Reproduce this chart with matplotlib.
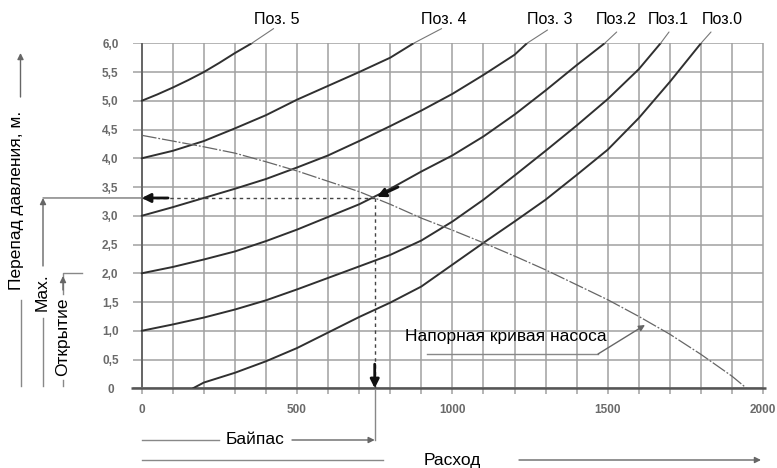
import numpy as np
import matplotlib
matplotlib.use("Agg")
import matplotlib.pyplot as plt
import matplotlib.transforms as mtransforms

plt.rcParams['font.family'] = ['Liberation Sans', 'DejaVu Sans']

# --- donnees ---
q_ticks = [0, 500, 1000, 1500, 2000]
q_grid = list(range(0, 2001, 100))
h_grid = [0, 0.5, 1.0, 1.5, 2.0, 2.5, 3.0, 3.5, 4.0, 4.5, 5.0, 5.5, 6.0]
h_labels = ['0', '0,5', '1,0', '1,5', '2,0', '2,5', '3,0', '3,5', '4,0', '4,5', '5,0', '5,5', '6,0']

# courbes des positions de la vanne (debit, perte de charge)
q_pos5 = [0, 50, 100, 150, 200, 250, 300, 354]
h_pos5 = [5.0, 5.11, 5.23, 5.36, 5.5, 5.66, 5.83, 6.0]
q_pos4 = [0, 100, 200, 300, 400, 500, 600, 700, 800, 875]
h_pos4 = [4.0, 4.13, 4.3, 4.52, 4.75, 5.02, 5.26, 5.5, 5.75, 6.0]
q_pos3 = [0, 100, 200, 300, 400, 500, 600, 700, 800, 900, 1000, 1100, 1200, 1240]
h_pos3 = [3.0, 3.15, 3.31, 3.47, 3.64, 3.84, 4.05, 4.3, 4.56, 4.83, 5.12, 5.45, 5.8, 6.0]
q_pos2 = [0, 100, 200, 300, 400, 500, 600, 700, 800, 900, 1000, 1100, 1200, 1300, 1400, 1490]
h_pos2 = [2.0, 2.11, 2.24, 2.38, 2.56, 2.76, 2.98, 3.2, 3.47, 3.77, 4.05, 4.38, 4.76, 5.18, 5.62, 6.0]
q_pos1 = [0, 100, 200, 300, 400, 500, 600, 700, 800, 900, 1000, 1100, 1200, 1300, 1400, 1500, 1600, 1670]
h_pos1 = [1.0, 1.11, 1.23, 1.37, 1.53, 1.72, 1.92, 2.12, 2.32, 2.57, 2.9, 3.28, 3.7, 4.13, 4.57, 5.03, 5.55, 6.0]
q_pos0 = [165, 200, 300, 400, 500, 600, 700, 800, 900, 1000, 1100, 1200, 1300, 1400, 1500, 1600, 1700, 1800]
h_pos0 = [0.0, 0.1, 0.27, 0.47, 0.7, 0.97, 1.24, 1.49, 1.77, 2.15, 2.53, 2.9, 3.28, 3.71, 4.15, 4.7, 5.33, 6.0]

pos_names = ['Поз.0', 'Поз.1', 'Поз.2', 'Поз. 3', 'Поз. 4', 'Поз. 5']
pos_q = [q_pos0, q_pos1, q_pos2, q_pos3, q_pos4, q_pos5]
pos_h = [h_pos0, h_pos1, h_pos2, h_pos3, h_pos4, h_pos5]

# courbe de la pompe
q_pump = [0, 100, 200, 300, 400, 500, 600, 700, 750, 800, 900, 1000, 1100, 1200, 1300, 1400, 1500, 1600, 1700, 1800, 1900, 1947]
h_pump = [4.4, 4.3, 4.2, 4.09, 3.94, 3.78, 3.6, 3.42, 3.31, 3.2, 2.96, 2.75, 2.53, 2.3, 2.06, 1.8, 1.54, 1.25, 0.94, 0.59, 0.21, 0.0]

# point de fonctionnement
q_work = 750
h_work = 3.31

W, H = 777, 468
fig = plt.figure(figsize=(W / 100, H / 100), dpi=100)
ax = fig.add_axes([127.7 / W, (H - 388.3) / H, (766.2 - 127.7) / W, 345.0 / H])
ax.set_xlim(-45, 2010)
ax.set_ylim(0, 6)
for s in ax.spines.values():
    s.set_visible(False)

# pixels comptes depuis le coin haut gauche
tl = mtransforms.Affine2D().scale(1 / W, -1 / H).translate(0, 1) + fig.transFigure
px_y = mtransforms.blended_transform_factory(tl, ax.transData)
q_px = mtransforms.blended_transform_factory(ax.transData, tl)

gridc = '#a0a0a0'
ax.hlines(h_grid, -28, 2000, color=gridc, lw=1.1, zorder=1)
ax.vlines(q_grid, -0.1, 6, color=gridc, lw=1.1, zorder=1, clip_on=False)
ax.hlines(0, -35, 2010, color='#555555', lw=1.8, zorder=2, clip_on=False)
ax.vlines(0, 0, 6, color='#666666', lw=1.4, zorder=2)

ax.set_xticks(q_ticks)
ax.set_xticklabels([str(v) for v in q_ticks])
ax.set_yticks(h_grid)
ax.set_yticklabels(h_labels)
ax.tick_params(axis='x', length=0, pad=11.5, labelsize=8.5, labelcolor='#6a6a6a')
ax.tick_params(axis='y', length=0, pad=12.5, labelsize=8.5, labelcolor='#6a6a6a')
for t in ax.get_xticklabels() + ax.get_yticklabels():
    t.set_fontweight('bold')
for t in ax.get_yticklabels():
    t.set_horizontalalignment('center')

# courbes
for q, h in zip(pos_q, pos_h):
    ax.plot(q, h, color='#303030', lw=1.4, zorder=3, solid_capstyle='round')
ax.plot(q_pump, h_pump, color='#666666', lw=0.9, ls=(0, (12, 1.5, 1.5, 1.5)), zorder=3)

# etiquettes des positions
label_cx = [722, 668.5, 616, 549.5, 443.5, 276.5]
leader_end = [(711, 32), (669, 32), (616.7, 32), (547.5, 30), (441.6, 28.6), (273.6, 28.6)]
for name, q, h, cx, le in zip(pos_names, pos_q, pos_h, label_cx, leader_end):
    ax.annotate('', xy=le, xycoords=tl, xytext=(q[-1], h[-1]), textcoords='data',
                arrowprops=dict(arrowstyle='-', color='#777777', lw=0.8, shrinkA=0, shrinkB=0))
    ax.text(cx, 20, name, transform=tl, ha='center', va='center', fontsize=11.5)

# point de fonctionnement
ax.plot([0, q_work], [h_work, h_work], color='#444444', lw=1, ls=(0, (2.5, 2.5)), zorder=4)
ax.plot([q_work, q_work], [h_work, 0], color='#444444', lw=1, ls=(0, (2.5, 2.5)), zorder=4)
arrow_k = dict(arrowstyle='-|>', color='#111111', lw=2, mutation_scale=13, shrinkA=0, shrinkB=0)
ax.annotate('', xy=(0, h_work), xytext=(85, h_work), arrowprops=arrow_k, zorder=5)
ax.annotate('', xy=(q_work, 0), xytext=(q_work, 0.42), arrowprops=arrow_k, zorder=5)
ax.annotate('', xy=(q_work + 7, h_work + 0.02), xytext=(q_work + 75, h_work + 0.19),
            arrowprops=arrow_k, zorder=5)

thin = dict(color='#888888', lw=1)
head = dict(arrowstyle='-|>', color='#666666', lw=1, mutation_scale=9, shrinkA=0, shrinkB=0)

# annotations a gauche
ax.text(17, 200, 'Перепад давления, м.', transform=tl, rotation=90, ha='center', va='center',
        fontsize=12.5)
ax.annotate('', xy=(20.5, 53), xycoords=tl, xytext=(20.5, 97), textcoords=tl, arrowprops=head)
ax.plot([20.5, 20.5], [300, 386], transform=tl, clip_on=False, **thin)

ax.text(42, 292, 'Max.', transform=tl, rotation=90, ha='center', va='center', fontsize=12.5)
ax.annotate('', xy=(43, h_work), xycoords=px_y, xytext=(43, 266), textcoords=tl, arrowprops=head)
ax.annotate('', xy=(0, h_work), xycoords='data', xytext=(43, h_work), textcoords=px_y,
            arrowprops=dict(arrowstyle='-', color='#777777', lw=1, shrinkA=0, shrinkB=0))
ax.plot([43, 43], [318, 386], transform=tl, clip_on=False, **thin)

ax.text(63, 337, 'Открытие', transform=tl, rotation=90, ha='center', va='center', fontsize=12.5)
ax.plot([63, 63, 82], [294, 273, 273], transform=tl, clip_on=False, **thin)
ax.annotate('', xy=(63, 276), xycoords=tl, xytext=(63, 290), textcoords=tl, arrowprops=head)
ax.plot([63, 63], [380, 386], transform=tl, clip_on=False, **thin)

# annotations en bas
ax.text(255, 439, 'Байпас', transform=tl, ha='center', va='center', fontsize=12.5)
ax.plot([142, 219], [440, 440], transform=tl, clip_on=False, **thin)
ax.annotate('', xy=(q_work, 440), xycoords=q_px, xytext=(292, 440), textcoords=tl, arrowprops=head)
ax.plot([q_work, q_work], [440, 390], transform=q_px, clip_on=False, **thin)

ax.text(452, 460, 'Расход', transform=tl, ha='center', va='center', fontsize=12.5)
ax.plot([142, 383], [460, 460], transform=tl, clip_on=False, **thin)
ax.annotate('', xy=(761, 460), xycoords=tl, xytext=(519, 460), textcoords=tl, arrowprops=head)

# courbe de la pompe : legende
ax.text(405, 336, 'Напорная кривая насоса', transform=tl, ha='left', va='center', fontsize=12.5)
ax.plot([427, 598], [354, 354], transform=tl, clip_on=False, **thin)
ax.annotate('', xy=(645, 325), xycoords=tl, xytext=(598, 354), textcoords=tl, arrowprops=head)

fig.savefig('out.png', dpi=100, facecolor='white')
